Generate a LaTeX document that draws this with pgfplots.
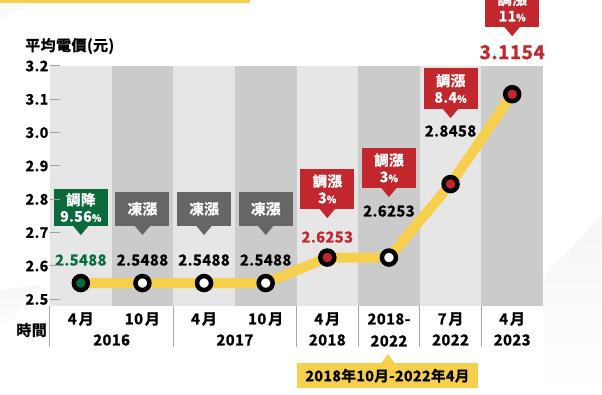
\documentclass[border=0pt]{standalone}
\usepackage{pgfplots}
\pgfplotsset{compat=1.18}
\usepackage{fontspec}
\setmainfont{Noto Sans CJK TC}[BoldFont={Noto Sans CJK TC Bold}, BoldFeatures={FakeBold=1.3, LetterSpace=3}]
\definecolor{cyel}{HTML}{F6D04D}
\definecolor{cgreen}{HTML}{0B6A3B}
\definecolor{cred}{HTML}{C1272D}
\definecolor{cgray}{HTML}{666666}
\definecolor{clight}{HTML}{E6E6E6}
\definecolor{cdark}{HTML}{CBCBCB}
\definecolor{cfaint}{HTML}{F6F6F6}
\newcommand{\fs}[1]{\fontsize{#1}{#1}\selectfont}
\newcommand{\pc}{{\fontsize{10}{10}\selectfont\%}}
% #1 x, #2 y, #3 tip offset (pt), #4 colour, #5 box height, #6 text
\newcommand{\callout}[6]{%
  \fill[#4] ([yshift=#3pt]axis cs:#1,#2) -- ++(-8pt,9.5pt) -- ++(16pt,0pt) -- cycle;
  \node[fill=#4, text=white, anchor=south, minimum width=54pt, minimum height=#5pt,
        inner sep=0pt, align=center, font=\bfseries\fontsize{14.5}{16.5}\selectfont]
        at ([yshift=#3pt+9pt]axis cs:#1,#2) {#6};
}
\newcommand{\sep}[1]{\draw[gray!70, line width=1pt] (axis cs:#1,2.48) -- ++(0pt,-41pt);}
\begin{document}
\begin{tikzpicture}[x=1pt,y=1pt]
\useasboundingbox (0,0) rectangle (602,395);
% faint background shapes
\shade[top color=cfaint, bottom color=white] (543,118) -- (602,180) -- (602,0) -- (543,0) -- cycle;
\fill[cfaint!60] (0,375) -- (40,395) -- (0,395) -- cycle;
\shade[top color=cfaint, bottom color=white] (0,105) -- (40,110) -- (0,60) -- cycle;
\fill[cyel] (0,392) rectangle (250,395);
\node[anchor=west, inner sep=0pt, font=\bfseries\fs{15}] at (25,349) {平均電價(元)};
\begin{axis}[
  at={(50pt,89pt)}, anchor=south west, scale only axis, width=493pt, height=240pt,
  xmin=-0.5, xmax=7.5, ymin=2.48, ymax=3.2,
  clip=false, axis on top,
  axis line style={draw=none},
  xtick=\empty,
  ytick={2.5,2.6,2.7,2.8,2.9,3.0,3.1,3.2},
  ytick pos=left, tick align=inside, major tick length=10pt,
  ytick style={draw=gray!75, line width=1pt},
  yticklabel style={font=\bfseries\fs{14.5}, inner sep=1.5pt},
  yticklabel style={/pgf/number format/.cd, fixed, fixed zerofill, precision=1, assume math mode=true},
]
\fill[clight] (axis cs:-0.5,2.48) rectangle (axis cs:0.5,3.2);
\fill[cdark]  (axis cs:0.5,2.48) rectangle (axis cs:1.5,3.2);
\fill[clight] (axis cs:1.5,2.48) rectangle (axis cs:2.5,3.2);
\fill[cdark]  (axis cs:2.5,2.48) rectangle (axis cs:3.5,3.2);
\fill[clight] (axis cs:3.5,2.48) rectangle (axis cs:4.5,3.2);
\fill[cdark]  (axis cs:4.5,2.48) rectangle (axis cs:5.5,3.2);
\fill[clight] (axis cs:5.5,2.48) rectangle (axis cs:6.5,3.2);
\fill[cdark]  (axis cs:6.5,2.48) rectangle (axis cs:7.5,3.2);

\addplot[cyel, line width=10pt, line join=round] coordinates
  {(0,2.5488)(1,2.5488)(2,2.5488)(3,2.5488)(4,2.6253)(5,2.6253)(6,2.8458)(7,3.1154)};
\addplot[only marks, mark=*, mark size=7pt, mark options={draw=black, line width=4.5pt, fill=cgreen}]
  coordinates {(0,2.5488)};
\addplot[only marks, mark=*, mark size=7pt, mark options={draw=black, line width=4.5pt, fill=white}]
  coordinates {(1,2.5488)(2,2.5488)(3,2.5488)(5,2.6253)};
\addplot[only marks, mark=*, mark size=7pt, mark options={draw=black, line width=4.5pt, fill=cred}]
  coordinates {(4,2.6253)(6,2.8458)(7,3.1154)};

% value labels
\node[font=\bfseries\fs{15}, text=cgreen] at ([yshift=23pt]axis cs:0,2.5488) {2.5488};
\node[font=\bfseries\fs{15}] at ([yshift=23pt]axis cs:1,2.5488) {2.5488};
\node[font=\bfseries\fs{15}] at ([yshift=23pt]axis cs:2,2.5488) {2.5488};
\node[font=\bfseries\fs{15}] at ([yshift=23pt]axis cs:3,2.5488) {2.5488};
\node[font=\bfseries\fs{15}, text=cred] at ([yshift=20.5pt]axis cs:4,2.6253) {2.6253};
\node[font=\bfseries\fs{15}] at ([yshift=46.5pt]axis cs:5,2.6253) {2.6253};
\node[font=\bfseries\fs{15}] at ([yshift=53pt]axis cs:6,2.8458) {2.8458};
\node[font=\bfseries\fs{19}, text=cred] at ([yshift=42pt]axis cs:7,3.1154) {3.1154};

% callouts
\callout{0}{2.5488}{48}{cgreen}{37}{調降\\9.56\pc}
\callout{1}{2.5488}{48}{cgray}{34}{凍漲}
\callout{2}{2.5488}{48}{cgray}{34}{凍漲}
\callout{3}{2.5488}{48}{cgray}{34}{凍漲}
\callout{4}{2.6253}{39.5}{cred}{40}{調漲\\3\pc}
\callout{5}{2.6253}{60.5}{cred}{40}{調漲\\3\pc}
\callout{6}{2.8458}{66}{cred}{41}{調漲\\8.4\pc}
\callout{7}{3.1154}{58}{cred}{40}{調漲\\11\pc}

% x labels
\sep{-0.5}
\sep{1.5}
\sep{3.5}
\sep{4.5}
\sep{5.5}
\sep{6.5}
\node[font=\bfseries\fs{15}] at ([yshift=-13pt]axis cs:0,2.48) {4\hspace{2pt}月};
\node[font=\bfseries\fs{15}] at ([yshift=-13pt]axis cs:1,2.48) {10\hspace{2pt}月};
\node[font=\bfseries\fs{15}] at ([yshift=-13pt]axis cs:2,2.48) {4\hspace{2pt}月};
\node[font=\bfseries\fs{15}] at ([yshift=-13pt]axis cs:3,2.48) {10\hspace{2pt}月};
\node[font=\bfseries\fs{15}] at ([yshift=-13pt]axis cs:4,2.48) {4\hspace{2pt}月};
\node[font=\bfseries\fs{15}] at ([yshift=-13pt]axis cs:5,2.48) {2018-};
\node[font=\bfseries\fs{15}] at ([yshift=-13pt]axis cs:6,2.48) {7\hspace{2pt}月};
\node[font=\bfseries\fs{15}] at ([yshift=-13pt]axis cs:7,2.48) {4\hspace{2pt}月};
\node[font=\bfseries\fs{15}] at ([yshift=-34pt]axis cs:0.5,2.48) {2016};
\node[font=\bfseries\fs{15}] at ([yshift=-34pt]axis cs:2.5,2.48) {2017};
\node[font=\bfseries\fs{15}] at ([yshift=-34pt]axis cs:4,2.48) {2018};
\node[font=\bfseries\fs{15}] at ([yshift=-35pt]axis cs:5,2.48) {2022};
\node[font=\bfseries\fs{15}] at ([yshift=-34pt]axis cs:6,2.48) {2022};
\node[font=\bfseries\fs{15}] at ([yshift=-34pt]axis cs:7,2.48) {2023};
\node[anchor=east, inner sep=0pt, font=\bfseries\fs{15}] at ([xshift=-3pt,yshift=-24pt]axis cs:-0.5,2.48) {時間};

% period box
\fill[cyel] ([xshift=-1pt,yshift=-48pt]axis cs:5,2.48) -- ++(-7pt,-9.5pt) -- ++(14pt,0pt) -- cycle;
\node[fill=cyel, anchor=north, minimum width=181pt, minimum height=25pt, inner sep=0pt,
      font=\bfseries\fs{14.5}] at ([xshift=-1.5pt,yshift=-57pt]axis cs:5,2.48) {2018年10月-2022年4月};
\end{axis}
\end{tikzpicture}
\end{document}
